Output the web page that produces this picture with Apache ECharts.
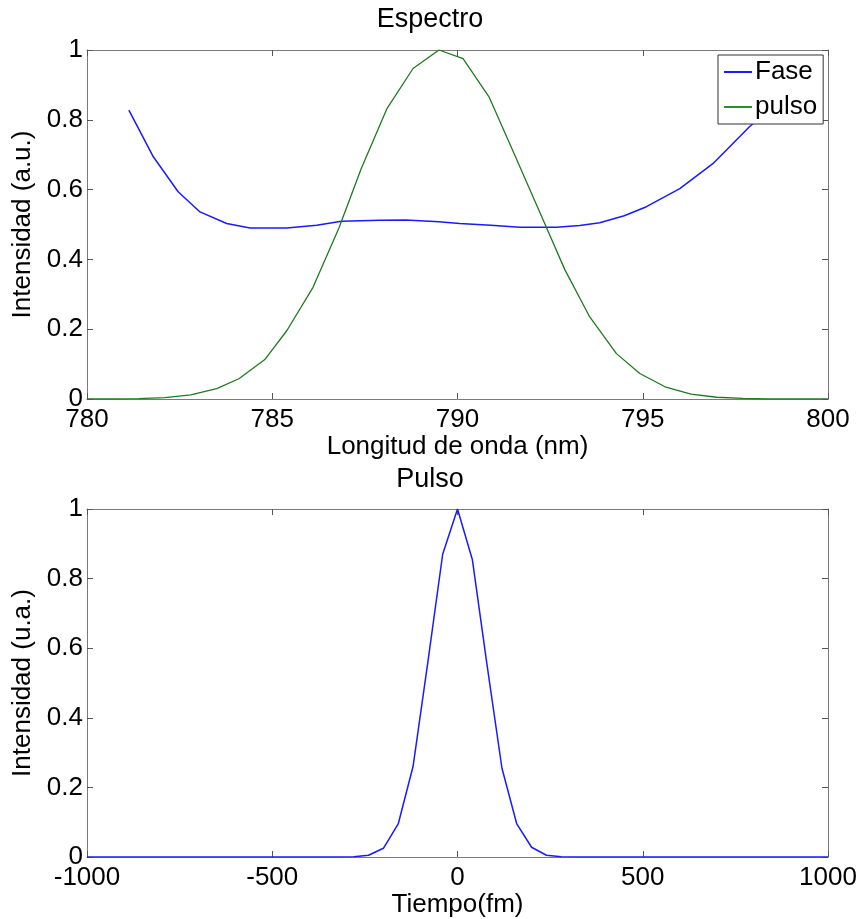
<!DOCTYPE html>
<html>
<head>
<meta charset="utf-8">
<script src="https://cdn.jsdelivr.net/npm/echarts@6/dist/echarts.min.js"></script>
<style>
html,body{margin:0;padding:0;background:#fff;}
#chart{width:860px;height:919px;}
</style>
</head>
<body>
<div id="chart"></div>
<script>
// ---- Data ----
// Top panel: Espectro
const lambdaPulso = [780.0, 780.7, 781.4, 782.1, 782.8, 783.5, 784.1, 784.8, 785.4, 786.1, 786.8, 787.4, 788.1, 788.8, 789.5, 790.15, 790.85, 791.5, 792.2, 792.9, 793.57, 794.29, 794.92, 795.6, 796.3, 797.0, 797.7, 798.4, 799.1, 800.0];
const pulsoEspectro = [0, 0, 0.001, 0.004, 0.012, 0.03, 0.058, 0.113, 0.197, 0.32, 0.49, 0.66, 0.833, 0.947, 1.0, 0.975, 0.866, 0.71, 0.54, 0.37, 0.235, 0.13, 0.073, 0.035, 0.014, 0.005, 0.002, 0, 0, 0];
const lambdaFase = [781.13, 781.79, 782.46, 783.05, 783.77, 784.4, 785.39, 786.2, 786.87, 787.9, 788.6, 789.5, 790.06, 790.9, 791.68, 792.67, 793.3, 793.84, 794.5, 795.1, 796.0, 796.9, 797.88, 798.87];
const fase = [0.828, 0.694, 0.594, 0.536, 0.503, 0.490, 0.490, 0.498, 0.509, 0.512, 0.513, 0.508, 0.503, 0.498, 0.492, 0.492, 0.497, 0.505, 0.525, 0.551, 0.603, 0.675, 0.78, 0.87];
// Bottom panel: Pulso
const tiempo = [-1000, -400, -320, -280, -240, -200, -160, -120, -80, -40, 0, 40, 80, 120, 160, 200, 240, 280, 320, 400, 1000];
const pulsoTiempo = [0, 0, 0, 0.001, 0.005, 0.025, 0.095, 0.26, 0.56, 0.87, 1.0, 0.855, 0.55, 0.255, 0.095, 0.028, 0.005, 0.001, 0, 0, 0];
// Axis settings / labels
const xTicksTop = {min: 780, max: 800, interval: 5};
const xTicksBottom = {min: -1000, max: 1000, interval: 500};
const yTicks = {min: 0, max: 1, interval: 0.2};
const legendNames = ['Fase', 'pulso'];

const FONT = 'Liberation Sans, Arial, sans-serif';
const FS = 26;
const frameColor = '#7a7a7a';

function pairs(xs, ys) { return xs.map((x, i) => [x, ys[i]]); }

function xAx(idx, t, name, gap) {
  return [{
    type: 'value', gridIndex: idx, position: 'bottom', min: t.min, max: t.max, interval: t.interval,
    name: name, nameLocation: 'middle', nameGap: gap,
    nameTextStyle: {fontFamily: FONT, fontSize: FS, color: '#000'},
    axisLine: {show: true, onZero: false, lineStyle: {color: frameColor, width: 1}},
    axisTick: {show: true, inside: true, length: 6, lineStyle: {color: '#555'}},
    axisLabel: {show: true, fontFamily: FONT, fontSize: FS, color: '#000', margin: 8,
      formatter: v => String(v)},
    splitLine: {show: false}
  }, {
    type: 'value', gridIndex: idx, position: 'top', min: t.min, max: t.max, interval: t.interval,
    axisLine: {show: true, onZero: false, lineStyle: {color: frameColor, width: 1}},
    axisTick: {show: true, inside: true, length: 6, lineStyle: {color: '#555'}},
    axisLabel: {show: false}, splitLine: {show: false}
  }];
}
function yAx(idx, name) {
  return [{
    type: 'value', gridIndex: idx, position: 'left', min: yTicks.min, max: yTicks.max, interval: yTicks.interval,
    name: name, nameLocation: 'middle', nameGap: 45,
    nameTextStyle: {fontFamily: FONT, fontSize: FS, color: '#000'},
    axisLine: {show: true, onZero: false, lineStyle: {color: frameColor, width: 1}},
    axisTick: {show: true, inside: true, length: 6, lineStyle: {color: '#555'}},
    axisLabel: {show: true, fontFamily: FONT, fontSize: FS, color: '#000', margin: 4,
      formatter: v => String(+v.toFixed(1))},
    splitLine: {show: false}
  }, {
    type: 'value', gridIndex: idx, position: 'right', min: yTicks.min, max: yTicks.max, interval: yTicks.interval,
    axisLine: {show: true, onZero: false, lineStyle: {color: frameColor, width: 1}},
    axisTick: {show: true, inside: true, length: 6, lineStyle: {color: '#555'}},
    axisLabel: {show: false}, splitLine: {show: false}
  }];
}

const chart = echarts.init(document.getElementById('chart'), null, {renderer: 'canvas'});
chart.setOption({
  backgroundColor: '#ffffff',
  animation: false,
  title: [
    {text: 'Espectro', left: 'center', top: 1, textStyle: {fontFamily: FONT, fontSize: 27, fontWeight: 'normal', color: '#000'}},
    {text: 'Pulso', left: 'center', top: 461, textStyle: {fontFamily: FONT, fontSize: 27, fontWeight: 'normal', color: '#000'}}
  ],
  legend: {
    data: legendNames, orient: 'vertical', left: 718, top: 55,
    padding: [4, 6, 4, 6], itemGap: 9, itemWidth: 28, itemHeight: 2, icon: 'rect',
    backgroundColor: '#fff', borderColor: '#333', borderWidth: 1,
    textStyle: {fontFamily: FONT, fontSize: FS, color: '#000', padding: [0, 0, 0, -2]}
  },
  grid: [
    {left: 87, top: 50, width: 741, height: 349, show: false},
    {left: 87, top: 509, width: 741, height: 348, show: false}
  ],
  xAxis: [...xAx(0, xTicksTop, 'Longitud de onda (nm)', 28), ...xAx(1, xTicksBottom, 'Tiempo(fm)', 28)],
  yAxis: [...yAx(0, 'Intensidad (a.u.)'), ...yAx(1, 'Intensidad (u.a.)')],
  series: [
    {name: 'Fase', type: 'line', xAxisIndex: 0, yAxisIndex: 0, data: pairs(lambdaFase, fase),
      symbol: 'none', lineStyle: {color: '#1a1aff', width: 1.5}, itemStyle: {color: '#1a1aff'}, z: 3},
    {name: 'pulso', type: 'line', xAxisIndex: 0, yAxisIndex: 0, data: pairs(lambdaPulso, pulsoEspectro),
      symbol: 'none', lineStyle: {color: '#1f7a1f', width: 1.3}, itemStyle: {color: '#2e8b2e'}, z: 3},
    {name: 'Pulso', type: 'line', xAxisIndex: 2, yAxisIndex: 2, data: pairs(tiempo, pulsoTiempo),
      symbol: 'none', lineStyle: {color: '#1a1aff', width: 1.5}, itemStyle: {color: '#1a1aff'}, z: 3}
  ]
});
</script>
</body>
</html>
